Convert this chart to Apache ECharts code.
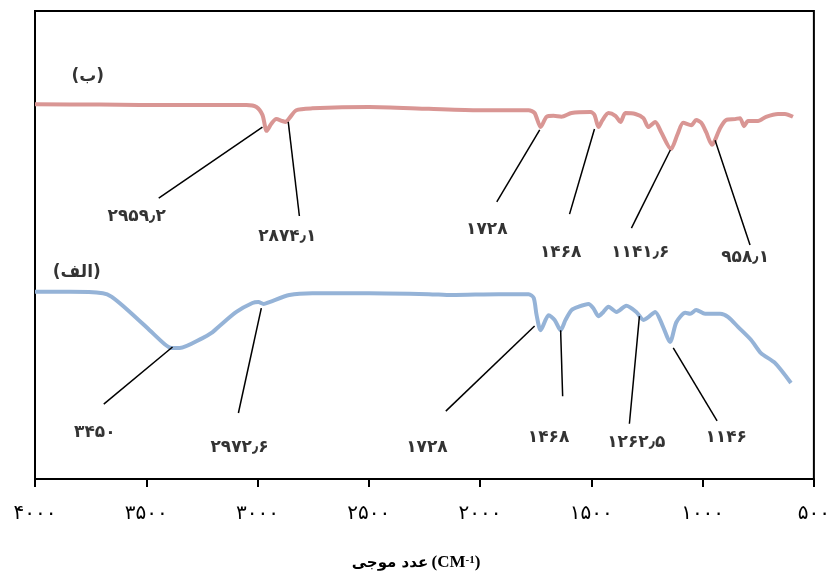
<!DOCTYPE html>
<html>
<head>
<meta charset="utf-8">
<script src="https://cdn.jsdelivr.net/npm/echarts@6/dist/echarts.min.js"></script>
<style>
  html, body { margin: 0; padding: 0; background: #ffffff; }
  #chart { width: 833px; height: 577px; }
</style>
</head>
<body>
<div id="chart"></div>
<script>
// FTIR spectrum (ب): wavenumber (cm-1) and transmittance (arbitrary %)
const waveB = [4000, 3709, 3350, 3050, 3005, 2978, 2959, 2938, 2916, 2889, 2874, 2857, 2826, 2754,
  2499, 2230, 2006, 1782, 1755, 1728, 1701, 1670, 1634, 1589, 1504, 1486, 1468, 1450, 1423, 1392,
  1369, 1347, 1302, 1266, 1244, 1213, 1186, 1142, 1114, 1087, 1051, 1029, 1006, 984, 958, 921,
  894, 854, 832, 814, 796, 751, 715, 661, 630, 594];
const transB = [80.1, 80.0, 79.9, 79.9, 79.5, 77.8, 74.4, 75.9, 76.9, 76.5, 76.3, 77.1, 78.8, 79.2,
  79.5, 79.1, 78.8, 78.8, 78.2, 75.2, 77.4, 77.6, 77.4, 78.2, 78.4, 77.8, 75.2, 76.7, 78.2, 77.6,
  76.3, 78.2, 78.0, 77.1, 75.2, 76.3, 74.1, 70.5, 73.5, 76.1, 75.6, 76.7, 76.1, 74.1, 71.4, 75.0,
  76.7, 76.9, 77.1, 75.4, 76.5, 76.5, 77.4, 78.0, 78.0, 77.4];

// FTIR spectrum (الف)
const waveA = [4000, 3843, 3695, 3655, 3574, 3485, 3417, 3386, 3350, 3247, 3207, 3171, 3095, 3023,
  2996, 2973, 2947, 2857, 2754, 2499, 2230, 2127, 1916, 1782, 1759, 1746, 1728, 1692, 1665, 1638,
  1616, 1589, 1558, 1513, 1491, 1468, 1446, 1423, 1387, 1343, 1298, 1266, 1244, 1213, 1181, 1146,
  1118, 1078, 1056, 1029, 989, 921, 885, 841, 782, 738, 675, 603];
const transA = [40.0, 40.0, 39.7, 38.9, 35.7, 31.8, 28.8, 28.0, 28.0, 30.1, 31.2, 32.7, 35.7, 37.6,
  37.8, 37.4, 37.8, 39.3, 39.7, 39.7, 39.5, 39.3, 39.5, 39.5, 38.7, 35.0, 31.8, 35.0, 34.0, 31.8,
  34.0, 36.1, 36.8, 37.4, 36.5, 34.8, 35.7, 36.8, 35.7, 37.0, 35.7, 34.0, 34.6, 35.7, 32.9, 29.3,
  33.5, 35.5, 35.3, 36.1, 35.3, 35.3, 34.6, 32.5, 29.7, 26.9, 24.8, 20.5];

// x-axis ticks (cm-1)
const xTicks = [4000, 3500, 3000, 2500, 2000, 1500, 1000, 500];

// peak annotations
const peakTextB = ['۲۹۵۹٫۲', '۲۸۷۴٫۱', '۱۷۲۸', '۱۴۶۸', '۱۱۴۱٫۶', '۹۵۸٫۱'];
const peakTextA = ['۳۴۵۰', '۲۹۷۲٫۶', '۱۷۲۸', '۱۴۶۸', '۱۲۶۲٫۵', '۱۱۴۶'];
const seriesNames = ['(ب)', '(الف)'];

const faDigits = '۰۱۲۳۴۵۶۷۸۹';
const toFa = s => String(s).replace(/[0-9]/g, d => faDigits[+d]);
const zip = (xs, ys) => xs.map((x, i) => [x, ys[i]]);

// leader lines: [tip on curve, tail] and label anchor, in (cm-1, %) space
const leadersB = [
  [[2978, 75.2], [3444, 60.0], [3543, 56.0]],
  [[2862, 76.3], [2812, 56.2], [2866, 51.7]],
  [[1732, 74.6], [1925, 59.2], [1970, 53.2]],
  [[1486, 74.8], [1598, 56.6], [1638, 48.3]],
  [[1145, 70.3], [1320, 53.6], [1280, 48.3]],
  [[944, 72.4], [787, 50.0], [809, 47.4]]
];
const leadersA = [
  [[3382, 28.2], [3691, 16.0], [3731, 10.0]],
  [[2983, 36.5], [3086, 14.1], [3081, 6.8]],
  [[1755, 32.7], [2154, 14.5], [2239, 6.8]],
  [[1638, 31.8], [1629, 17.7], [1692, 8.8]],
  [[1284, 34.8], [1329, 11.8], [1298, 7.7]],
  [[1132, 28.0], [935, 12.4], [894, 8.8]]
];
const nameAnchors = [[3763, 85.9], [3812, 44.2]];

const faFont = '"DejaVu Sans", sans-serif';

function leaderLines(list) {
  return list.map(l => [{ coord: l[0] }, { coord: l[1] }]);
}
function labelPoints(list, texts) {
  return list.map((l, i) => [l[2][0], l[2][1], texts[i]]);
}

const chart = echarts.init(document.getElementById('chart'), null, { renderer: 'canvas' });

const curveBase = {
  type: 'line',
  showSymbol: false,
  smooth: 0.25,
  lineStyle: { width: 4 },
  z: 2,
  markLine: {
    silent: true,
    symbol: 'none',
    animation: false,
    label: { show: false },
    lineStyle: { color: '#000', width: 1.5, type: 'solid' },
    emphasis: { disabled: true }
  }
};

const textSeries = (data, size) => ({
  type: 'scatter',
  symbolSize: 1,
  itemStyle: { color: 'rgba(0,0,0,0)' },
  silent: true,
  z: 5,
  data: data,
  label: {
    show: true,
    position: 'inside',
    formatter: p => p.data[2],
    color: '#000',
    fontFamily: faFont,
    fontWeight: 'bold',
    fontSize: size
  }
});

chart.setOption({
  animation: false,
  backgroundColor: '#ffffff',
  grid: {
    left: 35, right: 17, top: 11, bottom: 98,
    show: true, borderColor: '#000', borderWidth: 2, backgroundColor: 'transparent'
  },
  xAxis: {
    type: 'value',
    min: 500, max: 4000, interval: 500,
    inverse: true,
    splitLine: { show: false },
    axisLine: { lineStyle: { color: '#000', width: 2 } },
    axisTick: { show: true, inside: false, length: 8, lineStyle: { color: '#000', width: 2 } },
    axisLabel: {
      margin: 25,
      showMinLabel: true, showMaxLabel: true,
      hideOverlap: false,
      color: '#000',
      fontFamily: faFont,
      fontSize: 20,
      formatter: v => xTicks.includes(v) ? toFa(v) : ''
    }
  },
  yAxis: { type: 'value', min: 0, max: 100, show: false },
  series: [
    Object.assign({}, curveBase, {
      name: seriesNames[0],
      data: zip(waveB, transB),
      itemStyle: { color: '#D99694' },
      lineStyle: { width: 4, color: '#D99694' },
      markLine: Object.assign({}, curveBase.markLine, { data: leaderLines(leadersB) })
    }),
    Object.assign({}, curveBase, {
      name: seriesNames[1],
      data: zip(waveA, transA),
      itemStyle: { color: '#95B3D7' },
      lineStyle: { width: 4, color: '#95B3D7' },
      markLine: Object.assign({}, curveBase.markLine, { data: leaderLines(leadersA) })
    }),
    textSeries(labelPoints(leadersB, peakTextB).concat(labelPoints(leadersA, peakTextA)), 17),
    textSeries(nameAnchors.map((p, i) => [p[0], p[1], seriesNames[i]]), 17)
  ],
  graphic: [{
    type: 'text',
    x: 416, y: 563,
    style: {
      text: '{fa|عدد موجی} {lat|(CM}{sup|-1}{lat|)}',
      align: 'center',
      verticalAlign: 'middle',
      rich: {
        fa: { fontFamily: faFont, fontWeight: 'bold', fontSize: 15, fill: '#000' },
        lat: { fontFamily: '"Liberation Serif", serif', fontWeight: 'bold', fontSize: 17, fill: '#000' },
        sup: { fontFamily: '"Liberation Serif", serif', fontWeight: 'bold', fontSize: 11, fill: '#000', verticalAlign: 'top' }
      }
    }
  }]
});
</script>
</body>
</html>
